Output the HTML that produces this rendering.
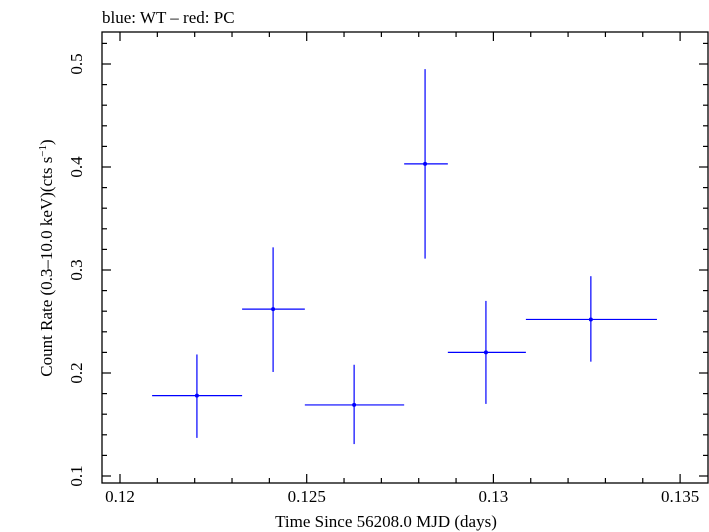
<!DOCTYPE html>
<html><head><meta charset="utf-8"><style>
body{margin:0;background:#fff}
svg{display:block;font-family:"Liberation Serif",serif}
</style></head><body>
<svg id="chart" width="709" height="532" viewBox="0 0 709 532" xmlns="http://www.w3.org/2000/svg">
<text x="102" y="23" font-size="17">blue: WT – red: PC</text>
<rect x="102" y="32" width="606" height="451" fill="none" stroke="#000" stroke-width="1.3"/>
<g id="ticks"></g>
<g id="series"></g>
<text x="386" y="527" font-size="17" text-anchor="middle">Time Since 56208.0 MJD (days)</text>
<text transform="translate(52,258) rotate(-90)" font-size="17" text-anchor="middle">Count Rate (0.3–10.0 keV)(cts s<tspan baseline-shift="super" font-size="11">−1</tspan>)</text>
</svg>
<script>
const xCenters=[0.12206,0.1241,0.12627,0.12817,0.1298,0.13261];
const xLo=[0.12086,0.12327,0.12495,0.12761,0.12878,0.13087];
const xHi=[0.12327,0.12495,0.12761,0.12878,0.13087,0.13438];
const yVals=[0.178,0.262,0.169,0.403,0.220,0.252];
const yLo=[0.137,0.201,0.131,0.311,0.170,0.211];
const yHi=[0.218,0.322,0.208,0.495,0.270,0.294];
const xTicks=[0.12,0.125,0.13,0.135];
const yTicks=[0.1,0.2,0.3,0.4,0.5];
const L=102,R=708,T=32,B=483;
function sx(v){return 120+(v-0.12)/0.005*186.7;}
function sy(v){return 476-(v-0.1)*1030;}
const NS="http://www.w3.org/2000/svg";
function mk(tag,attrs,parent){const e=document.createElementNS(NS,tag);for(const k in attrs)e.setAttribute(k,attrs[k]);parent.appendChild(e);return e;}
const tg=document.getElementById('ticks');
for(let i=0;i<=16;i++){const v=0.12+i*0.001;const x=sx(v);if(x<L||x>R)continue;const major=i%5===0;const len=major?9:5;
const a=mk('line',{x1:x,x2:x,y1:B,y2:B-len,stroke:'#000','stroke-width':1.2},tg);


const b=mk('line',{x1:x,x2:x,y1:T,y2:T+len,stroke:'#000','stroke-width':1.2},tg);

}
for(let i=0;i<=22;i++){const v=0.1+i*0.02;const y=sy(v);if(y<T||y>B)continue;const major=Math.abs((v*10)-Math.round(v*10))<1e-6;const len=major?9:5;
const a=mk('line',{x1:L,x2:L+len,y1:y,y2:y,stroke:'#000','stroke-width':1.2},tg);


const b=mk('line',{x1:R,x2:R-len,y1:y,y2:y,stroke:'#000','stroke-width':1.2},tg);

}
xTicks.forEach(v=>{const t=mk('text',{x:sx(v),y:502,'font-size':17,'text-anchor':'middle'},tg);t.textContent=String(v);

});
yTicks.forEach(v=>{const t=mk('text',{transform:`translate(82,${sy(v)}) rotate(-90)`,'font-size':17,'text-anchor':'middle'},tg);t.textContent=String(v);

});
const sg=document.getElementById('series');
xCenters.forEach((c,i)=>{
const h=mk('line',{x1:sx(xLo[i]),x2:sx(xHi[i]),y1:sy(yVals[i]),y2:sy(yVals[i]),stroke:'#0000ff','stroke-width':1.2},sg);


const v=mk('line',{x1:sx(c),x2:sx(c),y1:sy(yLo[i]),y2:sy(yHi[i]),stroke:'#0000ff','stroke-width':1.2},sg);


const p=mk('circle',{cx:sx(c),cy:sy(yVals[i]),r:2,fill:'#0000ff'},sg);


});
</script>
</body></html>
